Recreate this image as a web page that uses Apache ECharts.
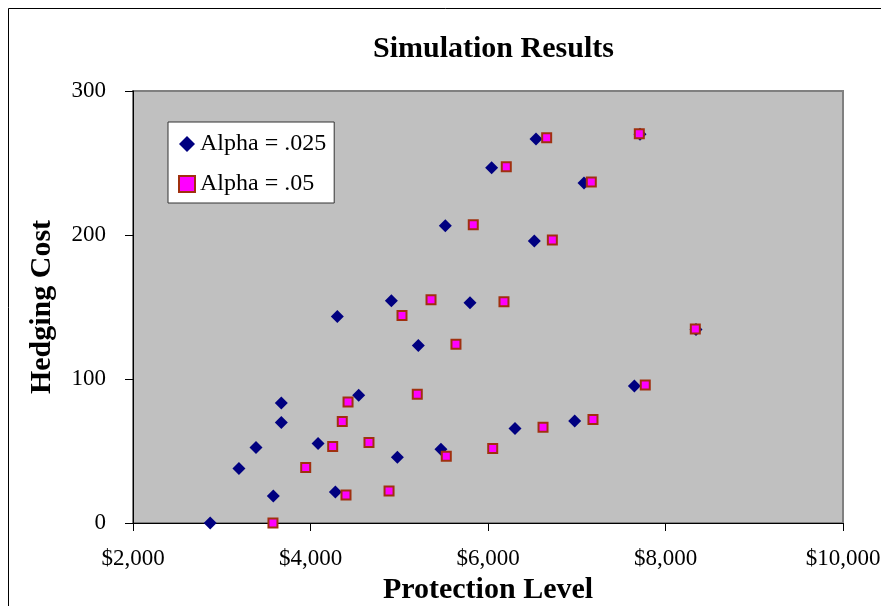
<!DOCTYPE html>
<html>
<head>
<meta charset="utf-8">
<script src="https://cdn.jsdelivr.net/npm/echarts@6/dist/echarts.min.js"></script>
<style>
html,body{margin:0;padding:0;background:#fff;}
#chart{width:881px;height:606px;}
</style>
</head>
<body>
<div id="chart"></div>
<script>
// ---- data ----
const seriesNames = ['Alpha = .025', 'Alpha = .05'];
const alpha025X = [2870, 3194, 3386, 3581, 3671, 3671, 4085, 4280, 4302, 4543, 4911, 4979, 5215, 5470, 5519, 5797, 6041, 6541, 7082, 6522, 7713, 8344, 7649, 6977, 6304];
const alpha025Y = [0, 37.8, 52.4, 18.8, 83.4, 69.8, 55.2, 21.5, 143.4, 88.7, 154.3, 45.7, 123.3, 51.2, 206.4, 152.9, 246.7, 266.6, 236.1, 195.8, 269.9, 134.4, 95.2, 70.9, 65.6];
const alpha05X = [3577, 3946, 4250, 4400, 4358, 4423, 4659, 4885, 5031, 5203, 5358, 5530, 5639, 5834, 6206, 6661, 7164, 7705, 6725, 6180, 8336, 7772, 7183, 6620, 6053];
const alpha05Y = [0, 38.5, 53.1, 19.5, 70.5, 84.1, 55.9, 22.2, 144.1, 89.4, 155.0, 46.3, 124.2, 207.1, 247.4, 267.5, 236.8, 270.3, 196.5, 153.6, 134.8, 95.9, 71.9, 66.5, 51.7];
const xTickValues = [2000, 4000, 6000, 8000, 10000];
const xTickLabels = ['$2,000', '$4,000', '$6,000', '$8,000', '$10,000'];
const yTickValues = [0, 100, 200, 300];
const yTickLabels = ['0', '100', '200', '300'];

function pairs(xs, ys) { return xs.map((x, i) => [x, ys[i]]); }

const FONT = 'Liberation Serif, Times New Roman, serif';
const chart = echarts.init(document.getElementById('chart'), null, {renderer: 'canvas'});
chart.setOption({
  animation: false,
  backgroundColor: '#ffffff',
  title: {
    text: 'Simulation Results',
    left: 373, top: 34, padding: 0,
    textStyle: {fontFamily: FONT, fontSize: 30, fontWeight: 'bold', color: '#000'}
  },
  graphic: [{
    type: 'rect', silent: true, z: -10,
    shape: {x: 8.5, y: 8.5, width: 1000, height: 1000},
    style: {fill: 'none', stroke: '#000', lineWidth: 1}
  }],
  grid: {
    left: 133, top: 91, right: 38, bottom: 83,
    show: true, backgroundColor: '#C0C0C0', borderColor: '#808080', borderWidth: 2,
    containLabel: false, outerBoundsMode: 'none'
  },
  legend: {
    orient: 'vertical', left: 168, top: 122,
    padding: [10, 8, 7, 10], itemGap: 16, itemWidth: 16, itemHeight: 16,
    backgroundColor: '#fff', borderColor: '#333', borderWidth: 1,
    textStyle: {fontFamily: FONT, fontSize: 24, color: '#000'},
    data: [{name: seriesNames[0], icon: 'diamond'}, {name: seriesNames[1], icon: 'rect'}]
  },
  xAxis: {
    type: 'value', min: 2000, max: 10000, interval: 2000,
    name: 'Protection Level', nameLocation: 'middle', nameGap: 48,
    nameTextStyle: {fontFamily: FONT, fontSize: 30, fontWeight: 'bold', color: '#000'},
    axisLine: {show: true, onZero: false, lineStyle: {color: '#000', width: 1}},
    axisTick: {show: true, length: 8, lineStyle: {color: '#000'}},
    splitLine: {show: false},
    axisLabel: {
      margin: 24, fontFamily: FONT, fontSize: 23, color: '#000',
      formatter: v => { const i = xTickValues.indexOf(v); return i >= 0 ? xTickLabels[i] : ''; }
    }
  },
  yAxis: {
    type: 'value', min: 0, max: 300, interval: 100,
    name: 'Hedging Cost', nameLocation: 'middle', nameGap: 76,
    nameTextStyle: {fontFamily: FONT, fontSize: 30, fontWeight: 'bold', color: '#000'},
    axisLine: {show: true, onZero: false, lineStyle: {color: '#000', width: 1}},
    axisTick: {show: true, length: 8, lineStyle: {color: '#000'}},
    splitLine: {show: false},
    axisLabel: {
      margin: 27, fontFamily: FONT, fontSize: 23, color: '#000',
      formatter: v => { const i = yTickValues.indexOf(v); return i >= 0 ? yTickLabels[i] : ''; }
    }
  },
  series: [
    {
      name: seriesNames[0], type: 'scatter', symbol: 'diamond', symbolSize: 13,
      itemStyle: {color: '#000080', opacity: 1},
      data: pairs(alpha025X, alpha025Y)
    },
    {
      name: seriesNames[1], type: 'scatter', symbol: 'rect', symbolSize: 9,
      itemStyle: {color: '#FF00FF', borderColor: '#A0300F', borderWidth: 2, opacity: 1},
      data: pairs(alpha05X, alpha05Y)
    }
  ]
});
</script>
</body>
</html>
